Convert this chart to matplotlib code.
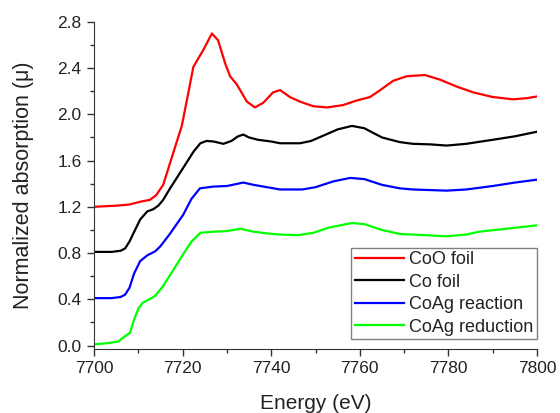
import matplotlib
matplotlib.use('Agg')
import matplotlib.pyplot as plt
from matplotlib.ticker import MultipleLocator

plt.rcParams['font.family'] = ['Liberation Sans', 'DejaVu Sans']

# CoO foil
coo_e = [7700, 7705, 7708, 7710.5, 7712.6, 7714, 7715.6, 7717.9, 7719.8, 7721.3, 7722.4,
         7724.7, 7726.6, 7728, 7729.6, 7730.7, 7732.2, 7734.5, 7736.3, 7738.2, 7740.4, 7742,
         7744.2, 7746.5, 7749.5, 7752.6, 7756.2, 7759.3, 7762.3, 7764.6, 7767.5, 7770.6,
         7774.7, 7778.1, 7781.9, 7785.6, 7790, 7794.6, 7797.7, 7800]
coo_mu = [1.20, 1.21, 1.22, 1.245, 1.26, 1.30, 1.39, 1.67, 1.90, 2.19, 2.41,
          2.56, 2.70, 2.64, 2.44, 2.33, 2.26, 2.11, 2.06, 2.10, 2.19, 2.21,
          2.15, 2.11, 2.07, 2.06, 2.08, 2.12, 2.15, 2.21, 2.29, 2.33,
          2.34, 2.30, 2.24, 2.19, 2.15, 2.13, 2.14, 2.155]

# Co foil
co_e = [7700, 7704, 7706, 7707, 7708, 7709, 7710.4, 7712, 7713.4, 7714.5, 7715.6, 7717,
        7719, 7721, 7722.5, 7724, 7725.4, 7727, 7729.2, 7731, 7732.5, 7733.7, 7735, 7737,
        7740, 7742, 7746.5, 7749, 7752, 7755, 7758.2, 7761, 7765, 7769, 7772, 7776,
        7779.6, 7784, 7790, 7795, 7800]
co_mu = [0.81, 0.81, 0.82, 0.84, 0.90, 0.98, 1.09, 1.16, 1.18, 1.21, 1.26, 1.35,
         1.47, 1.59, 1.68, 1.75, 1.77, 1.765, 1.745, 1.77, 1.81, 1.825, 1.80, 1.78,
         1.765, 1.75, 1.75, 1.77, 1.82, 1.87, 1.90, 1.88, 1.80, 1.76, 1.745, 1.74,
         1.73, 1.745, 1.78, 1.81, 1.85]

# CoAg reaction
rxn_e = [7700, 7704, 7706, 7707, 7708, 7709, 7710.4, 7712, 7713.8, 7715, 7717, 7720.1,
         7722, 7723.9, 7726.9, 7730, 7733.7, 7736, 7739, 7742, 7747, 7750, 7754, 7757.8,
         7761, 7765, 7769, 7772, 7779.6, 7784, 7790, 7795, 7800]
rxn_mu = [0.41, 0.41, 0.42, 0.44, 0.50, 0.62, 0.73, 0.78, 0.815, 0.86, 0.96, 1.13,
          1.27, 1.36, 1.375, 1.38, 1.41, 1.39, 1.37, 1.35, 1.35, 1.37, 1.42, 1.45,
          1.44, 1.39, 1.36, 1.35, 1.34, 1.35, 1.38, 1.41, 1.435]

# CoAg reduction
red_e = [7700, 7703, 7705.5, 7706.6, 7708.1, 7709, 7710, 7711, 7712.5, 7713.8, 7715.5,
         7717.5, 7720.1, 7722, 7724, 7727, 7730, 7733, 7736, 7739, 7742, 7746, 7749.5,
         7753, 7758.2, 7761, 7765, 7769, 7772, 7779.6, 7784, 7787, 7793, 7800]
red_mu = [0.01, 0.02, 0.035, 0.07, 0.11, 0.22, 0.32, 0.37, 0.40, 0.43, 0.51,
          0.63, 0.79, 0.90, 0.975, 0.985, 0.99, 1.01, 0.985, 0.97, 0.96, 0.955, 0.975,
          1.02, 1.06, 1.05, 1.00, 0.965, 0.96, 0.945, 0.96, 0.985, 1.01, 1.04]

fig = plt.figure(figsize=(5.6, 4.13), dpi=100)
ax = fig.add_axes([0.168, 0.155, 0.791, 0.792])

ax.plot(coo_e, coo_mu, color='#ff0000', lw=1.6, label='CoO foil')
ax.plot(co_e, co_mu, color='black', lw=1.6, label='Co foil')
ax.plot(rxn_e, rxn_mu, color='#0000ff', lw=1.6, label='CoAg reaction')
ax.plot(red_e, red_mu, color='#00ff00', lw=1.6, label='CoAg reduction')

ax.set_xlim(7700, 7800)
ax.set_ylim(-0.03, 2.8)
ax.xaxis.set_major_locator(MultipleLocator(20))
ax.xaxis.set_minor_locator(MultipleLocator(10))
ax.yaxis.set_major_locator(MultipleLocator(0.4))
ax.yaxis.set_minor_locator(MultipleLocator(0.2))
ax.yaxis.set_major_formatter(plt.FormatStrFormatter('%.1f'))
ax.tick_params(which='major', direction='out', length=5, width=1, labelsize=12.5,
               labelcolor='#222222', color='#333333')
ax.tick_params(axis='x', which='major', pad=3.5)
ax.tick_params(axis='y', which='major', pad=4)
ax.tick_params(which='minor', direction='out', length=3, width=1, color='#333333')

for s in ['top', 'right']:
    ax.spines[s].set_visible(False)
for s in ['left', 'bottom']:
    ax.spines[s].set_color('#333333')

ax.set_xlabel('Energy (eV)', fontsize=15, labelpad=13, color='#222222')
ax.set_ylabel('Normalized absorption (\u03bc)', fontsize=15.5, labelpad=17, color='#222222')

leg = ax.legend(loc='lower right', bbox_to_anchor=(1.0, 0.03), fontsize=13,
                handlelength=2.7, frameon=True, fancybox=False, borderaxespad=0,
                labelspacing=0.3, handletextpad=0.3, borderpad=0.2)
leg.get_frame().set_edgecolor('#808080')
leg.get_frame().set_linewidth(1)
leg.get_frame().set_alpha(1)
for t in leg.get_texts():
    t.set_color('#222222')

fig.savefig('out.png', dpi=100)
